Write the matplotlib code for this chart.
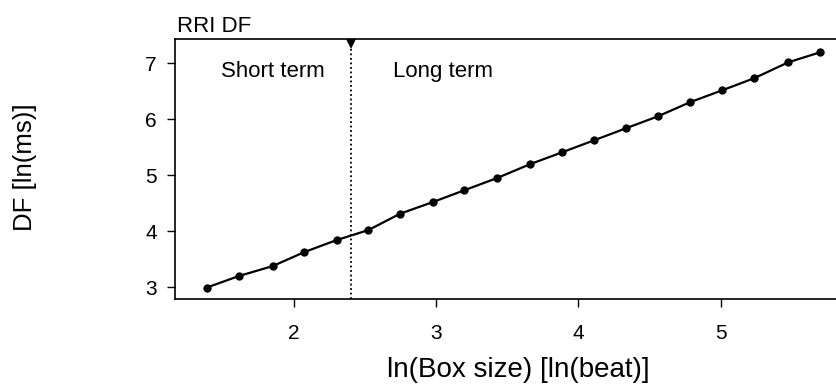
import matplotlib
matplotlib.use("Agg")
import matplotlib.pyplot as plt
import matplotlib.transforms as mtransforms

plt.rcParams["font.family"] = ["Liberation Sans", "DejaVu Sans"]

# log box size vs. detrended fluctuation of RR intervals
ln_box = [1.388, 1.613, 1.852, 2.074, 2.300, 2.524, 2.746, 2.976, 3.198, 3.426,
          3.660, 3.887, 4.112, 4.335, 4.561, 4.784, 5.011, 5.234, 5.475, 5.698]
ln_df = [2.990, 3.196, 3.375, 3.625, 3.839, 4.018, 4.310, 4.518, 4.730, 4.946,
         5.196, 5.410, 5.625, 5.839, 6.054, 6.304, 6.518, 6.732, 7.018, 7.196]
crossover = 2.402
x_ticks = [2, 3, 4, 5]
y_ticks = [3, 4, 5, 6, 7]

W, H = 837, 384
fig = plt.figure(figsize=(W / 100, H / 100), dpi=100)
left, right, top, bottom = 175, 845, 39, 299
ax = fig.add_axes([left / W, 1 - bottom / H, (right - left) / W, (bottom - top) / H])

ax.plot(ln_box, ln_df, color="black", lw=1.6, marker="o", ms=6.0,
        markeredgewidth=0, zorder=3)

ax.axvline(crossover, color="black", ls=(0, (1, 1.5)), lw=1.3, zorder=2)
trans = mtransforms.blended_transform_factory(ax.transData, ax.transAxes)
ax.plot([crossover], [1 - 5 / (bottom - top)], marker="v", ms=7.5, color="black",
        markeredgewidth=0, transform=trans, clip_on=False, zorder=4)

ax.text(1.854, 6.845, "Short term", ha="center", va="center", fontsize=16)
ax.text(3.048, 6.845, "Long term", ha="center", va="center", fontsize=16)

ax.set_xlim(1.165, 5.873)
ax.set_ylim(2.786, 7.434)
ax.set_xticks(x_ticks)
ax.set_yticks(y_ticks)
ax.tick_params(axis="both", direction="out", length=6, width=1.0,
               labelsize=15, colors="black")
ax.tick_params(axis="x", pad=12)
ax.tick_params(axis="y", pad=7)
for s in ax.spines.values():
    s.set_linewidth(1.2)

ax.set_xlabel("ln(Box size) [ln(beat)]", fontsize=20)
ax.set_ylabel("DF [ln(ms)]", fontsize=18.5)
ax.xaxis.set_label_coords((518 - left) / (right - left), (bottom - 370) / (bottom - top))
ax.yaxis.set_label_coords((25 - left) / (right - left), (bottom - 167) / (bottom - top))
ax.xaxis.label.set_va("center")
ax.yaxis.label.set_va("center")

ax.text((177 - left) / (right - left), (bottom - 32) / (bottom - top), "RRI DF",
        transform=ax.transAxes, ha="left", va="baseline", fontsize=16)

fig.savefig("out.png", dpi=100)
